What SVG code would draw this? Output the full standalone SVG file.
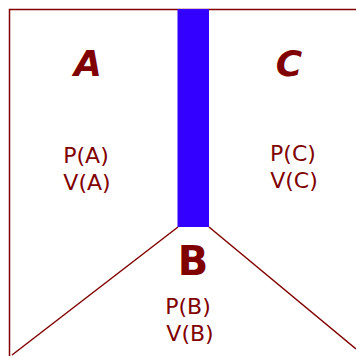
<svg xmlns="http://www.w3.org/2000/svg" width="356" height="356" viewBox="0 0 356 356">
<style>
.ln{stroke:#800000;stroke-width:1.5;fill:none}
.big{font-family:"Comic Sans MS","DejaVu Sans",sans-serif;fill:#800000;text-anchor:middle;font-weight:bold}
.sm{font-family:"Comic Sans MS","DejaVu Sans",sans-serif;fill:#800000;text-anchor:middle;font-size:22px}
</style>
<rect width="356" height="356" fill="#fff"/>
<g id="connectors">
<polyline class="ln" points="9.5,356 9.5,9.5 356,9.5"/>
<line class="ln" x1="178" y1="227" x2="12" y2="355"/>
<line class="ln" x1="209" y1="227" x2="356" y2="349"/>
</g>
<g id="wall"><rect x="177.5" y="9" width="31.5" height="218" fill="#3300ff"/></g>
<g id="A">
<text class="big" x="88" y="76" font-size="36" font-style="italic">A</text>
<text class="sm" x="86" y="163">P(A)</text>
<text class="sm" x="87" y="190">V(A)</text>
</g>
<g id="C">
<text class="big" x="289" y="76" font-size="36" font-style="italic">C</text>
<text class="sm" x="293" y="161">P(C)</text>
<text class="sm" x="294" y="188">V(C)</text>
</g>
<g id="B">
<text class="big" x="193" y="275" font-size="40">B</text>
<text class="sm" x="188" y="314">P(B)</text>
<text class="sm" x="190" y="341">V(B)</text>
</g>
</svg>
